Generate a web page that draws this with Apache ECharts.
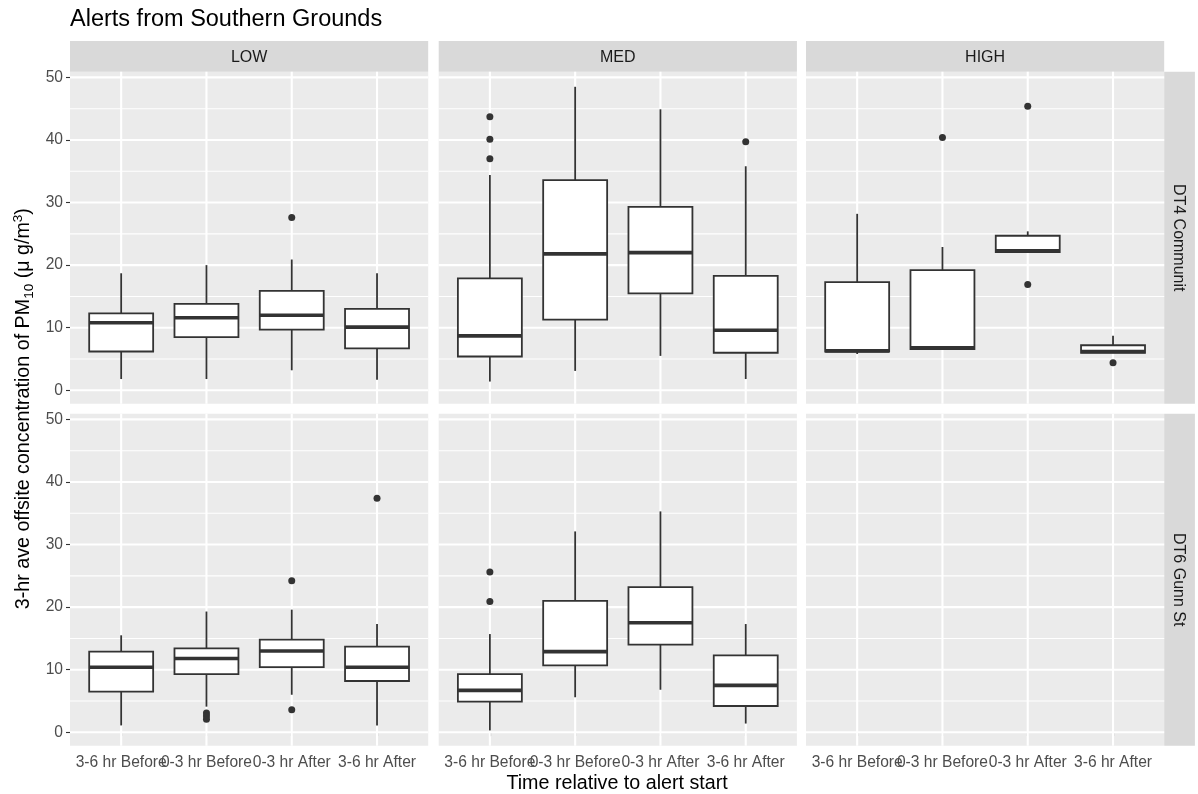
<!DOCTYPE html>
<html>
<head>
<meta charset="utf-8">
<script src="https://cdn.jsdelivr.net/npm/echarts@6/dist/echarts.min.js"></script>
<style>
html,body{margin:0;padding:0;background:#fff;}
#chart{width:1198px;height:794px;}
</style>
</head>
<body>
<div id="chart"></div>
<script>
// ---- data ----
const categories = ['3-6 hr Before', '0-3 hr Before', '0-3 hr After', '3-6 hr After'];
const levels = ['LOW', 'MED', 'HIGH'];
const sites = ['DT4 Communit', 'DT6 Gunn St'];
const yTicks = [0, 10, 20, 30, 40, 50];
const yMinorTicks = [5, 15, 25, 35, 45];
const xTicks = [1, 2, 3, 4];

// box stats: [min, Q1, median, Q3, max] per category
const dt4Low  = [[1.8, 6.2, 10.8, 12.3, 18.7], [1.8, 8.5, 11.6, 13.8, 20.0], [3.2, 9.7, 12.0, 15.9, 20.9], [1.7, 6.7, 10.1, 13.0, 18.7]];
const dt4Med  = [[1.4, 5.4, 8.7, 17.9, 34.4], [3.1, 11.3, 21.8, 33.6, 48.5], [5.5, 15.5, 22.0, 29.3, 44.9], [1.8, 6.0, 9.6, 18.3, 35.8]];
const dt4High = [[5.8, 6.2, 6.3, 17.3, 28.2], [6.5, 6.6, 6.8, 19.2, 22.9], [22.1, 22.1, 22.3, 24.7, 25.4], [6.0, 6.0, 6.2, 7.2, 8.7]];
const dt6Low  = [[1.1, 6.5, 10.4, 12.9, 15.5], [4.1, 9.3, 11.8, 13.4, 19.3], [6.0, 10.4, 13.0, 14.8, 19.6], [1.1, 8.2, 10.4, 13.7, 17.3]];
const dt6Med  = [[0.3, 4.9, 6.7, 9.3, 15.7], [5.6, 10.7, 12.9, 21.0, 32.1], [6.8, 14.0, 17.5, 23.2, 35.3], [1.4, 4.2, 7.5, 12.3, 17.3]];
const dt6High = [];

// outliers: [category number (1-4), value]
const dt4LowOut  = [[3, 27.6]];
const dt4MedOut  = [[1, 43.7], [1, 40.1], [1, 37.0], [4, 39.7]];
const dt4HighOut = [[2, 40.4], [3, 45.4], [3, 16.9], [4, 4.4]];
const dt6LowOut  = [[2, 3.1], [2, 2.6], [2, 2.1], [3, 24.2], [3, 3.6], [4, 37.4]];
const dt6MedOut  = [[1, 25.6], [1, 20.9]];
const dt6HighOut = [];

const yMin = -2.14, yMax = 50.91;

// ---- layout ----
const colX = [70, 438.7, 806];
const colW = 358.2;
const rowY = [71.7, 413.7];
const rowH = 332;
const stripSize = 30.7;
const FONT = '"Liberation Sans", Arial, Helvetica, sans-serif';

const panels = [
  [dt4Low, dt4Med, dt4High],
  [dt6Low, dt6Med, dt6High]
];
const outs = [
  [dt4LowOut, dt4MedOut, dt4HighOut],
  [dt6LowOut, dt6MedOut, dt6HighOut]
];

const grids = [], xAxes = [], yAxes = [], series = [];

function hLineRender(width) {
  return function (params, api) {
    const cs = params.coordSys;
    const y = api.coord([1, api.value(1)])[1];
    return { type: 'line', shape: { x1: cs.x, y1: y, x2: cs.x + cs.width, y2: y },
      style: { stroke: '#ffffff', lineWidth: width }, silent: true };
  };
}
function vLineRender(width) {
  return function (params, api) {
    const cs = params.coordSys;
    const x = api.coord([api.value(0), 0])[0];
    return { type: 'line', shape: { x1: x, y1: cs.y, x2: x, y2: cs.y + cs.height },
      style: { stroke: '#ffffff', lineWidth: width }, silent: true };
  };
}
function xLabelRender(params, api) {
  const cs = params.coordSys;
  const v = api.value(0);
  const x = api.coord([v, 0])[0];
  return { type: 'text', x: x, y: cs.y + cs.height + 9, silent: true,
    style: { text: categories[Math.round(v) - 1], fontSize: 15.6, fontFamily: FONT, fill: '#4d4d4d',
      align: 'center', verticalAlign: 'top' } };
}
function boxRender(params, api) {
  const x = api.value(0);
  const mn = api.value(1), q1 = api.value(2), md = api.value(3), q3 = api.value(4), mx = api.value(5);
  const xc = api.coord([x, 0])[0];
  const half = api.size([0.75, 0])[0] / 2;
  const yMn = api.coord([x, mn])[1], yQ1 = api.coord([x, q1])[1], yMd = api.coord([x, md])[1];
  const yQ3 = api.coord([x, q3])[1], yMx = api.coord([x, mx])[1];
  const stroke = '#333333';
  return {
    type: 'group',
    children: [
      { type: 'line', shape: { x1: xc, y1: yQ3, x2: xc, y2: yMx }, style: { stroke, lineWidth: 1.8 } },
      { type: 'line', shape: { x1: xc, y1: yQ1, x2: xc, y2: yMn }, style: { stroke, lineWidth: 1.8 } },
      { type: 'rect', shape: { x: xc - half, y: yQ3, width: half * 2, height: yQ1 - yQ3 },
        style: { fill: '#ffffff', stroke, lineWidth: 1.8 } },
      { type: 'line', shape: { x1: xc - half, y1: yMd, x2: xc + half, y2: yMd }, style: { stroke, lineWidth: 3.6 } }
    ]
  };
}

let gi = 0;
for (let r = 0; r < 2; r++) {
  for (let c = 0; c < 3; c++) {
    grids.push({ left: colX[c], top: rowY[r], width: colW, height: rowH,
      show: true, backgroundColor: '#ebebeb', borderWidth: 0, containLabel: false, outerBoundsMode: 'none' });
    const bottomRow = r === 1;
    const leftCol = c === 0;
    xAxes.push({
      type: 'value', gridIndex: gi, min: 0.4, max: 4.6,
      axisLine: { show: false },
      splitLine: { show: false },
      axisTick: { show: bottomRow, customValues: xTicks, length: 4, lineStyle: { color: '#333333', width: 1.1 } },
      axisLabel: { show: false }
    });
    yAxes.push({
      type: 'value', gridIndex: gi, min: yMin, max: yMax,
      axisLine: { show: false },
      splitLine: { show: false },
      axisTick: { show: leftCol, customValues: yTicks, length: 4, lineStyle: { color: '#333333', width: 1.1 } },
      axisLabel: { show: leftCol, customValues: yTicks, margin: 7, color: '#4d4d4d', fontSize: 15.6, fontFamily: FONT,
        hideOverlap: false, showMinLabel: true, showMaxLabel: true }
    });
    // gridlines
    series.push({ type: 'custom', xAxisIndex: gi, yAxisIndex: gi, z: 1, silent: true, clip: false,
      renderItem: hLineRender(1.1), data: yMinorTicks.map(v => [1, v]) });
    series.push({ type: 'custom', xAxisIndex: gi, yAxisIndex: gi, z: 1, silent: true, clip: false,
      renderItem: hLineRender(2.1), data: yTicks.map(v => [1, v]) });
    series.push({ type: 'custom', xAxisIndex: gi, yAxisIndex: gi, z: 1, silent: true, clip: false,
      renderItem: vLineRender(2.1), data: xTicks.map(v => [v, 0]) });
    // x tick labels (bottom row only)
    if (bottomRow) {
      series.push({ type: 'custom', xAxisIndex: gi, yAxisIndex: gi, z: 5, silent: true, clip: false,
        renderItem: xLabelRender, data: xTicks.map(v => [v, 0]) });
    }
    // boxes
    series.push({ type: 'custom', xAxisIndex: gi, yAxisIndex: gi, z: 3, silent: true, clip: false,
      renderItem: boxRender, encode: { x: 0, y: [1, 2, 3, 4, 5] },
      data: panels[r][c].map((s, i) => [i + 1].concat(s)) });
    // outliers
    series.push({ type: 'scatter', xAxisIndex: gi, yAxisIndex: gi, z: 4, silent: true,
      symbol: 'circle', symbolSize: 7, itemStyle: { color: '#333333', opacity: 1 },
      data: outs[r][c] });
    gi++;
  }
}

const graphics = [];
// title
graphics.push({ type: 'text', x: 70, y: 19.5, style: { text: 'Alerts from Southern Grounds', fontSize: 23.5,
  fontFamily: FONT, fill: '#000000', align: 'left', verticalAlign: 'middle' } });
// top strips
for (let c = 0; c < 3; c++) {
  graphics.push({ type: 'rect', shape: { x: colX[c], y: rowY[0] - stripSize, width: colW, height: stripSize },
    style: { fill: '#d9d9d9' }, silent: true });
  graphics.push({ type: 'text', x: colX[c] + colW / 2, y: rowY[0] - stripSize / 2 + 1.5,
    style: { text: levels[c], fontSize: 16, fontFamily: FONT, fill: '#1a1a1a', align: 'center', verticalAlign: 'middle' } });
}
// right strips
for (let r = 0; r < 2; r++) {
  const sx = colX[2] + colW;
  graphics.push({ type: 'rect', shape: { x: sx, y: rowY[r], width: stripSize, height: rowH },
    style: { fill: '#d9d9d9' }, silent: true });
  graphics.push({ type: 'text', x: sx + stripSize / 2 - 1, y: rowY[r] + rowH / 2, rotation: -Math.PI / 2,
    style: { text: sites[r], fontSize: 16, fontFamily: FONT, fill: '#1a1a1a', align: 'center', verticalAlign: 'middle' } });
}
// axis titles
graphics.push({ type: 'text', x: colX[0] + (colX[2] + colW - colX[0]) / 2, y: 783.5,
  style: { text: 'Time relative to alert start', fontSize: 19.7, fontFamily: FONT, fill: '#000000',
    align: 'center', verticalAlign: 'middle' } });
graphics.push({ type: 'text', x: 24, y: rowY[0] + (rowY[1] + rowH - rowY[0]) / 2, rotation: Math.PI / 2,
  style: {
    text: '{a|3-hr ave offsite concentration of PM}{sub|10}{a| (μ g/m}{sup|3}{a|)}',
    align: 'center', verticalAlign: 'middle', fill: '#000000',
    rich: {
      a: { fontSize: 19.7, fontFamily: FONT, fill: '#000000', lineHeight: 25 },
      sub: { fontSize: 13.5, fontFamily: FONT, fill: '#000000', verticalAlign: 'bottom', lineHeight: 16 },
      sup: { fontSize: 13.5, fontFamily: FONT, fill: '#000000', verticalAlign: 'top', lineHeight: 14 }
    }
  } });

const chart = echarts.init(document.getElementById('chart'), null, { renderer: 'canvas' });
chart.setOption({
  animation: false,
  backgroundColor: '#ffffff',
  grid: grids,
  xAxis: xAxes,
  yAxis: yAxes,
  series: series,
  graphic: graphics
});
</script>
</body>
</html>
